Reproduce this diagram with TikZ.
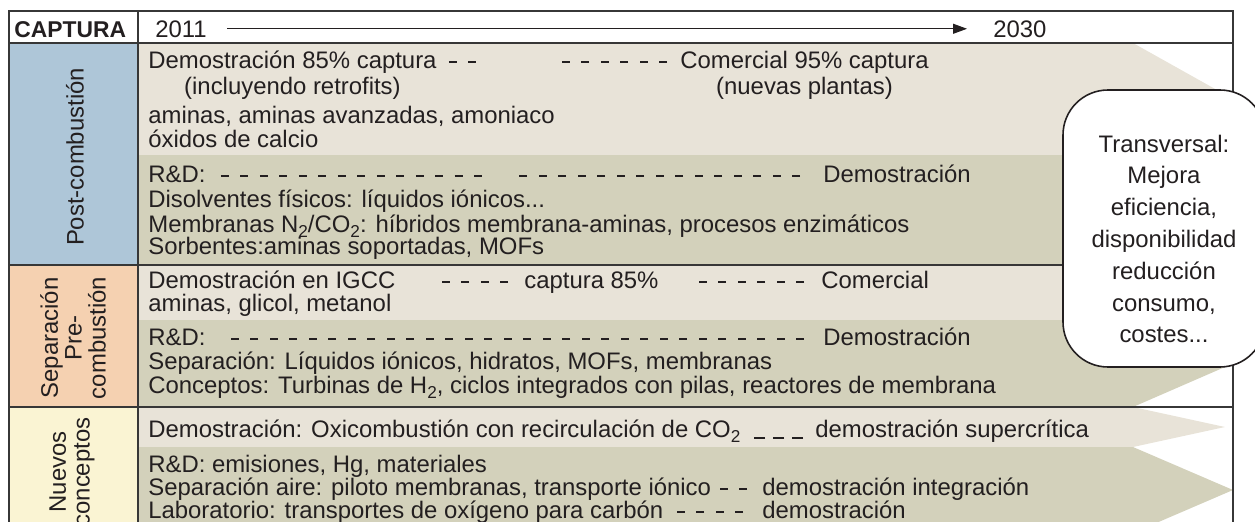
\documentclass[tikz,border=0pt]{standalone}
\usepackage{fontspec}
\setmainfont{Liberation Sans}
\usepackage{tikz}
\usetikzlibrary{calc,arrows.meta}
\usepackage{xcolor}
\definecolor{tinta}{RGB}{35,31,32}
\definecolor{marco}{RGB}{55,55,55}
\definecolor{azulpost}{RGB}{174,198,216}
\definecolor{naranjapre}{RGB}{245,209,177}
\definecolor{amarillonc}{RGB}{250,244,211}
\definecolor{bandaclara}{RGB}{232,227,216}
\definecolor{bandaoscura}{RGB}{211,209,187}
\newcommand{\cuerpo}{\fontsize{13.6}{16}\selectfont}
\newcommand{\subdos}{\raisebox{-3.2pt}{\fontsize{9.8}{10}\selectfont 2}}
\newcommand{\prbanda}[4]{\fill[#1] (138,-#2) -- (1133,-#2) -- (#4,{-(#2+#3)/2}) -- (1133,-#3) -- (138,-#3) -- cycle;}
\tikzset{
  txt/.style={anchor=base west, inner sep=0pt, text=tinta, font=\cuerpo},
  guion/.style={draw=tinta, line width=0.75pt, dash pattern=on 0.16cm off 0.23cm},
  bajo/.style={draw=tinta, line width=0.75pt, dash pattern=on 0.22cm off 0.16cm},
  linea/.style={draw=marco, line width=0.9pt},
  flecha/.style={draw=tinta, line width=0.6pt, -{Triangle[length=0.28cm,width=0.2cm]}},
  etiq/.style={rotate=90, align=center, inner sep=0pt, text=tinta, font=\fontsize{13.6}{13.6}\selectfont},
}

\begin{document}
\begin{tikzpicture}[x=0.02cm,y=0.02cm]
	\useasboundingbox (0,0) rectangle (1255,-521);
	\clip (0,0) rectangle (1255,-521);
	
	% cabecera y columna izquierda
	\fill[white] (9,-11) rectangle (1233,-43);
	\fill[azulpost] (9,-43) rectangle (138,-265);
	\fill[naranjapre] (9,-265) rectangle (138,-407);
	\fill[amarillonc] (9,-407) rectangle (138,-533);
	
	% bandas
	\prbanda{bandaclara}{43}{155}{1233}
	\prbanda{bandaoscura}{155}{265}{1233}
	\prbanda{bandaclara}{265}{320}{1233}
	\prbanda{bandaoscura}{320}{407}{1233}
	\prbanda{bandaclara}{407}{447}{1225}
	\prbanda{bandaoscura}{447}{533}{1233}
	
	\draw[linea] (9,-533) -- (9,-11) -- (1233,-11) -- (1233,-533);
	\draw[linea] (138,-11) -- (138,-533);
	\draw[linea] (9,-43) -- (1233,-43);
	\draw[linea] (9,-265) -- (1233,-265);
	\draw[linea] (9,-407) -- (1233,-407);
	
	\node[txt, font={\fontsize{13}{15}\selectfont\bfseries}] (captura) at (14,-37) {CAPTURA};
	\node[txt] (y11) at (155,-37) {2011};
	\node[txt] (y30) at (993,-37) {2030};
	\draw[flecha] ($(y11.east)+(20,0)$) -- ($(y30.west)+(-26,0)$);
	
	\node[etiq] (lpost) at (75,-157) {Post-combustión};
	\node[etiq] (lpre) at (73,-338) {Separación\\Pre-\\combustión};
	\node[etiq] (lnuevos) at (72,-472) {Nuevos\\conceptos};
	
	% post-combustion
	\node[txt] (demoA) at (148,-68) {Demostración 85\% captura};
	\node[txt] (comA) at (680,-68) {Comercial 95\% captura};
	\node[txt, anchor=base] (retroA) at ($(demoA.base)+(0,-26)$) {(incluyendo retrofits)};
	\node[txt, anchor=base] (nuevasA) at ($(comA.base)+(0,-26)$) {(nuevas plantas)};
	\draw[guion] ($(demoA.base east)+(12,6)$) -- ++(27.5,0);
	\draw[guion] ($(comA.base west)+(-13,6)$) -- ++(-105.5,0);
	\node[txt] (aminasA) at (148,-123) {aminas, aminas avanzadas, amoniaco};
	\node[txt] (oxidosA) at (148,-147) {óxidos de calcio};
	
	\node[txt] (rdA) at (148,-182) {R\&D:};
	\node[txt] (demB) at (823,-182) {Demostración};
	\draw[guion] ($(rdA.base east)+(15,6)$) -- ++(261.5,0);
	\draw[guion] ($(demB.base west)+(-23,6)$) -- ++(-281,0);
	\node[txt] (disolv) at (148,-207) {Disolventes físicos: líquidos iónicos...};
	\node[txt] (membr) at (148,-232) {Membranas N\subdos/CO\subdos: híbridos membrana-aminas, procesos enzimáticos};
	\node[txt] (sorb) at (148,-254) {Sorbentes:aminas soportadas, MOFs};
	
	% pre-combustion
	\node[txt] (igcc) at (148,-288) {Demostración en IGCC};
	\node[txt] (capB) at (524,-288) {captura 85\%};
	\node[txt] (comB) at (821,-288) {Comercial};
	\draw[guion] ($(capB.base west)+(-16,6)$) -- ++(-66.5,0);
	\draw[guion] ($(comB.base west)+(-17,6)$) -- ++(-105.5,0);
	\node[txt] (glicol) at (148,-311) {aminas, glicol, metanol};
	
	\node[txt] (rdB) at (148,-345) {R\&D:};
	\node[txt] (demC) at (823,-345) {Demostración};
	\draw[guion] ($(demC.base west)+(-19,6)$) -- ++(-573.5,0);
	\node[txt] (separ) at (148,-369) {Separación: Líquidos iónicos, hidratos, MOFs, membranas};
	\node[txt] (concep) at (148,-393) {Conceptos: Turbinas de H\subdos, ciclos integrados con pilas, reactores de membrana};
	
	% nuevos conceptos
	\node[txt] (oxic) at (148,-437) {Demostración: Oxicombustión con recirculación de CO\subdos};
	\node[txt] (superc) at (815,-437) {demostración supercrítica};
	\draw[bajo] ($(superc.base west)+(-12,-1)$) -- ++(-53,0);
	
	\node[txt] (rdC) at (148,-472) {R\&D: emisiones, Hg, materiales};
	\node[txt] (aire) at (148,-495) {Separación aire: piloto membranas, transporte iónico};
	\node[txt] (integ) at (762,-495) {demostración integración};
	\draw[guion] ($(integ.base west)+(-15,6)$) -- ++(-27.5,0);
	\node[txt] (labo) at (148,-518) {Laboratorio: transportes de oxígeno para carbón};
	\node[txt] (demD) at (762,-518) {demostración};
	\draw[guion] ($(demD.base west)+(-19,6)$) -- ++(-66.5,0);
	
	% transversal
	\draw[draw=tinta, fill=white, line width=0.9pt, rounded corners=0.9cm] (1063,-90) rectangle (1265,-367);
	\node[align=center, text=tinta, font={\fontsize{13.6}{18.1}\selectfont}] (transv) at (1164,-239) {Transversal:\\Mejora\\eficiencia,\\disponibilidad\\reducción\\consumo,\\costes...};
\end{tikzpicture}
\end{document}
